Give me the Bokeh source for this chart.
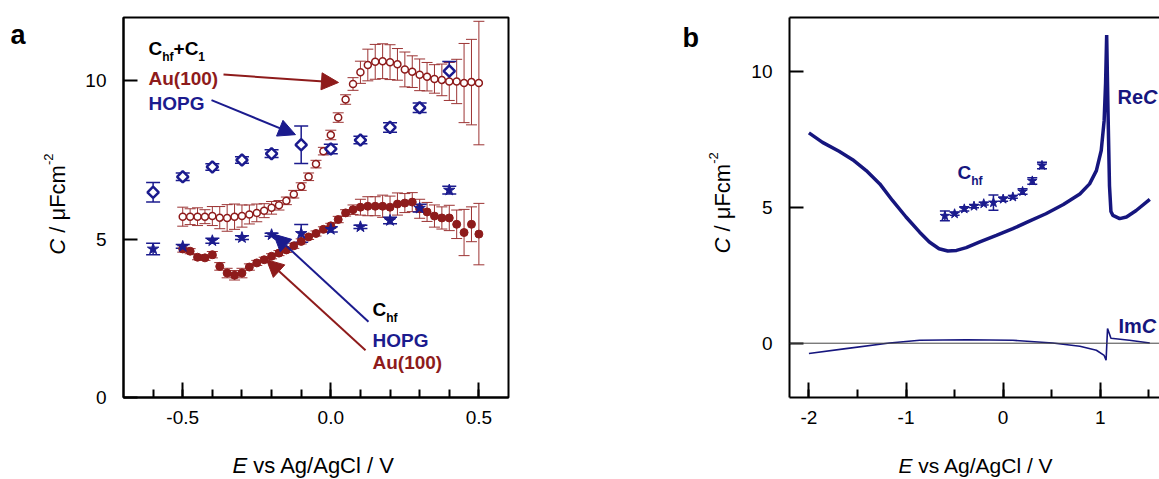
import math
from bokeh.plotting import figure
from bokeh.layouts import row
from bokeh.models import (Range1d, FixedTicker, Whisker, TeeHead, ColumnDataSource,
                          Arrow, NormalHead, Label, Span, LinearAxis)
from bokeh.embed import file_html
from bokeh.resources import INLINE

# ---------------- data ----------------
au_E = [-0.5, -0.475, -0.45, -0.425, -0.4, -0.375, -0.35, -0.325, -0.3, -0.275, -0.25,
        -0.225, -0.2, -0.175, -0.15, -0.125, -0.1, -0.075, -0.05, -0.025, 0.0, 0.025,
        0.05, 0.075, 0.1, 0.125, 0.15, 0.175, 0.2, 0.225, 0.25, 0.275, 0.3, 0.325, 0.35,
        0.375, 0.4, 0.425, 0.45, 0.475, 0.5]
au_total = [5.71, 5.71, 5.71, 5.71, 5.73, 5.68, 5.67, 5.71, 5.73, 5.78, 5.83, 5.90, 5.99,
            6.07, 6.21, 6.42, 6.66, 6.97, 7.37, 7.78, 8.29, 8.84, 9.41, 9.90, 10.27, 10.50,
            10.60, 10.62, 10.59, 10.52, 10.36, 10.29, 10.19, 10.13, 10.06, 10.03, 9.98, 9.98,
            9.93, 9.96, 9.93]
au_total_err = [0.30, 0.25, 0.28, 0.22, 0.30, 0.35, 0.42, 0.40, 0.35, 0.30, 0.28, 0.22, 0.20,
                0.15, 0.12, 0.12, 0.12, 0.12, 0.12, 0.12, 0.15, 0.15, 0.15, 0.20,
                0.35, 0.50, 0.55, 0.55, 0.55, 0.50, 0.55, 0.50, 0.50, 0.45, 0.45, 0.50, 0.60,
                0.70, 1.25, 1.35, 1.95]
au_hf = [4.69, 4.62, 4.43, 4.41, 4.51, 4.14, 3.93, 3.86, 3.93, 4.12, 4.25, 4.35, 4.46, 4.56,
         4.66, 4.79, 4.93, 5.07, 5.18, 5.31, 5.42, 5.62, 5.83, 5.93, 6.01, 6.04, 6.04, 6.04,
         6.01, 6.11, 6.14, 6.17, 5.96, 5.86, 5.73, 5.67, 5.67, 5.47, 5.21, 5.47, 5.16]
au_hf_err = [0.10, 0.08, 0.08, 0.08, 0.10, 0.12, 0.15, 0.15, 0.15, 0.10, 0.08, 0.08, 0.08,
             0.08, 0.08, 0.08, 0.08, 0.08, 0.08, 0.08, 0.08, 0.10, 0.10, 0.15,
             0.25, 0.30, 0.30, 0.35, 0.35, 0.35, 0.30, 0.30, 0.30, 0.30, 0.35, 0.35, 0.40,
             0.45, 0.73, 0.55, 0.97]

hopg_E = [-0.6, -0.5, -0.4, -0.3, -0.2, -0.1, 0.0, 0.1, 0.2, 0.3, 0.4]
hopg_total = [6.48, 6.97, 7.28, 7.50, 7.70, 7.98, 7.85, 8.13, 8.53, 9.15, 10.31]
hopg_total_err = [0.31, 0.12, 0.10, 0.10, 0.12, 0.59, 0.15, 0.12, 0.15, 0.15, 0.30]
hopg_hf = [4.69, 4.77, 4.95, 5.05, 5.14, 5.18, 5.31, 5.39, 5.59, 5.98, 6.55]
hopg_hf_err = [0.18, 0.06, 0.08, 0.06, 0.05, 0.28, 0.08, 0.05, 0.10, 0.12, 0.12]

reC_E = [-2.0, -1.86, -1.69, -1.55, -1.41, -1.27, -1.14, -1.0, -0.86, -0.76, -0.66, -0.57,
         -0.48, -0.38, -0.24, -0.07, 0.1, 0.27, 0.44, 0.62, 0.79, 0.89, 0.96, 1.01, 1.04,
         1.055, 1.066, 1.08, 1.095, 1.11, 1.13, 1.2, 1.27, 1.37, 1.51]
reC = [7.75, 7.40, 7.07, 6.76, 6.36, 5.87, 5.26, 4.65, 4.09, 3.73, 3.48, 3.40, 3.42, 3.52,
       3.73, 3.97, 4.22, 4.50, 4.77, 5.11, 5.50, 5.87, 6.36, 7.10, 8.20, 9.60, 11.35, 8.50,
       5.80, 4.85, 4.71, 4.59, 4.65, 4.89, 5.30]
imC_E = [-2.0, -1.62, -1.17, -0.86, -0.38, 0.1, 0.51, 0.79, 0.96, 1.04, 1.06, 1.075, 1.11,
         1.3, 1.51]
imC = [-0.38, -0.20, 0.01, 0.11, 0.13, 0.11, 0.01, -0.11, -0.26, -0.45, -0.63, 0.54, 0.18,
       0.11, 0.01]

xticks_a = [-0.5, 0.0, 0.5]
xlabels_a = ["-0.5", "0.0", "0.5"]
xminor_a = [-0.6, -0.5, -0.4, -0.3, -0.2, -0.1, 0.0, 0.1, 0.2, 0.3, 0.4, 0.5]
yticks = [0, 5, 10]
ylabels = ["0", "5", "10"]
xticks_b = [-2, -1, 0, 1]
xlabels_b = ["-2", "-1", "0", "1"]
xminor_b = [-2, -1.5, -1, -0.5, 0, 0.5, 1, 1.5]

# ---------------- styles ----------------
RED = "#8E1B1B"
RED_BAR = "#9C3434"
BLUE = "#1B1B8E"
NAVY = "#16167E"
FONT = "Liberation Sans"

W_REG = {' ': .278, '-': .333, '.': .278, '/': .278, 'A': .667, 'C': .722, 'E': .667,
         'F': .611, 'V': .667, 'c': .5, 'g': .556, 'l': .222, 'm': .833, 's': .5, 'v': .5,
         'μ': .576}
W_BOLD = {' ': .278, 'A': .722, 'u': .611, '(': .333, ')': .333, 'H': .722, 'O': .778,
          'P': .667, 'G': .778, 'C': .722, 'h': .611, 'f': .333, '+': .584, 'R': .722,
          'e': .556, 'I': .278, 'm': .889}


def tw(s, size, bold):
    t = W_BOLD if bold else W_REG
    return sum(t.get(ch, .556) for ch in s) * size


def make_geom(left, right, top, bottom, x0, x1, y0, y1):
    def f(px, py):
        return (x0 + (px - left) / (right - left) * (x1 - x0),
                y0 + (bottom - py) / (bottom - top) * (y1 - y0))
    return f


def rich(p, conv, px, py, pieces, angle=0.0, place=None):
    x, y = conv(px, py)
    off = 0.0
    for text, size, style, color, dy in pieces:
        bold = "bold" in style
        lead = len(text) - len(text.lstrip(" "))
        off += tw(" " * lead, size, bold)
        body = text.strip(" ")
        if angle == 0:
            xo, yo = off, -dy
        else:
            xo, yo = dy, off
        lab = Label(x=x, y=y, x_offset=xo, y_offset=yo, text=body, angle=angle,
                    text_font=FONT, text_font_size=f"{size}px",
                    text_font_style=style, text_color=color,
                    text_baseline="alphabetic", text_align="left")
        if place is None:
            p.add_layout(lab)
        else:
            p.add_layout(lab, place)
        off += tw(text.lstrip(" "), size, bold)


def style_axes(p, xt, xl, xm, yt, yl):
    for ax in p.xaxis:
        ax.ticker = FixedTicker(ticks=xt, minor_ticks=xm)
        ax.major_label_overrides = dict(zip(xt, xl))
        ax.major_tick_in = 15
        ax.major_tick_out = 0
        ax.minor_tick_in = 8
        ax.minor_tick_out = 0
        ax.major_label_standoff = 13
    for ax in p.yaxis:
        ax.ticker = FixedTicker(ticks=yt, minor_ticks=[])
        ax.major_label_overrides = dict(zip(yt, yl))
        ax.major_tick_in = 14
        ax.major_tick_out = 0
        ax.minor_tick_line_color = None
        ax.major_label_standoff = 17
    for ax in p.xaxis + p.yaxis:
        ax.axis_line_width = 2
        ax.axis_line_color = "black"
        ax.major_tick_line_width = 2
        ax.minor_tick_line_width = 2
        ax.major_tick_line_color = "black"
        ax.major_label_text_font = FONT
        ax.major_label_text_font_size = "19px"
        ax.major_label_text_color = "black"
    p.grid.visible = False


def whisk(p, xs, ys, es, color, cap, lw=1.0):
    src = ColumnDataSource(dict(x=xs, upper=[a + b for a, b in zip(ys, es)],
                                lower=[a - b for a, b in zip(ys, es)]))
    p.add_layout(Whisker(source=src, base="x", upper="upper", lower="lower",
                         dimension="height", line_color=color, line_width=lw,
                         upper_head=TeeHead(size=cap, line_color=color, line_width=lw),
                         lower_head=TeeHead(size=cap, line_color=color, line_width=lw)))


def arrow(p, conv, a, b, color):
    xs, ys = conv(*a)
    xe, ye = conv(*b)
    p.add_layout(Arrow(x_start=xs, y_start=ys, x_end=xe, y_end=ye, line_color=color,
                       line_width=2,
                       end=NormalHead(size=17, fill_color=color, line_color=color,
                                      line_width=1)))


# ---------------- panel a ----------------
p1 = figure(width=600, height=479, output_backend="svg", toolbar_location=None,
            x_range=Range1d(-0.7, 0.6), y_range=Range1d(0, 12),
            min_border_left=123, min_border_right=92, min_border_top=17, min_border_bottom=76)
p1.outline_line_color = "black"
p1.outline_line_width = 2
p1.outline_line_alpha = 1
style_axes(p1, xticks_a, xlabels_a, xminor_a, yticks, ylabels)
ga = make_geom(123, 508, 17, 403, -0.7, 0.6, 0, 12)

whisk(p1, au_E, au_total, au_total_err, RED_BAR, 11)
whisk(p1, au_E, au_hf, au_hf_err, RED_BAR, 11)
whisk(p1, hopg_E, hopg_total, hopg_total_err, BLUE, 14, 1.5)
whisk(p1, hopg_E, hopg_hf, hopg_hf_err, BLUE, 14, 1.5)

p1.scatter(au_E, au_total, marker="circle", size=7, fill_color="white",
           line_color=RED, line_width=1.5)
p1.scatter(au_E, au_hf, marker="circle", size=8, fill_color=RED, line_color=RED)
p1.scatter(hopg_E, hopg_total, marker="square", angle=math.pi / 4, size=8,
           fill_color="white", line_color=BLUE, line_width=2.5)
p1.scatter(hopg_E, hopg_hf, marker="star", size=12, fill_color=BLUE, line_color=BLUE)

arrow(p1, ga, (223, 75), (338, 83), RED)
arrow(p1, ga, (211, 101), (295, 136), BLUE)
arrow(p1, ga, (368, 326), (273, 237), BLUE)
arrow(p1, ga, (365, 355), (266, 263), RED)

rich(p1, ga, 148, 48, [("C", 19, "bold", "black", 0), ("hf", 12, "bold", "black", 8.5),
                       ("+", 19, "bold", "black", 0), ("C", 19, "bold", "black", 0),
                       ("1", 12, "bold", "black", 8.5)])
rich(p1, ga, 148, 79, [("Au(100)", 19, "bold", RED, 0)])
rich(p1, ga, 148, 104, [("HOPG", 19, "bold", BLUE, 0)])
rich(p1, ga, 372, 314, [("C", 19, "bold", "black", 0), ("hf", 12, "bold", "black", 8)])
rich(p1, ga, 372, 345, [("HOPG", 19, "bold", BLUE, 0)])
rich(p1, ga, 372, 367, [("Au(100)", 19, "bold", RED, 0)])
rich(p1, ga, 10, 35, [("a", 27, "bold", "black", 0)], place="left")
rich(p1, ga, 232, 472, [("E", 22, "italic", "black", 0),
                        (" vs Ag/AgCl / V", 22, "normal", "black", 0)], place="below")
rich(p1, ga, 57, 258, [("C", 22, "italic", "black", 0),
                       (" / μFcm", 22, "normal", "black", 0),
                       ("-2", 13, "normal", "black", -9)], angle=math.pi / 2, place="left")

# ---------------- panel b ----------------
p2 = figure(width=559, height=479, output_backend="svg", toolbar_location=None,
            x_range=Range1d(-2.2, 1.61), y_range=Range1d(-2, 12),
            min_border_left=189, min_border_right=0, min_border_top=17, min_border_bottom=82)
p2.outline_line_color = None
style_axes(p2, xticks_b, xlabels_b, xminor_b, yticks, ylabels)
top_ax = LinearAxis(ticker=FixedTicker(ticks=[]), axis_line_width=2, axis_line_color="black",
                    major_tick_line_color=None, minor_tick_line_color=None,
                    major_label_text_font_size="0px")
p2.add_layout(top_ax, "above")
gb = make_geom(789, 1159, 17, 397, -2.2, 1.61, -2, 12)

p2.add_layout(Span(location=0, dimension="width", line_color="#444444", line_width=1))
p2.line(imC_E, imC, line_color=NAVY, line_width=1.6)
p2.line(reC_E, reC, line_color=NAVY, line_width=3.5)
whisk(p2, hopg_E, hopg_hf, hopg_hf_err, BLUE, 10, 1.5)
p2.scatter(hopg_E, hopg_hf, marker="star", size=10, fill_color=BLUE, line_color=BLUE)

rich(p2, gb, 957, 172, [("C", 19, "bold", NAVY, 0), ("hf", 12, "bold", NAVY, 8)])
rich(p2, gb, 1117, 96, [("Re", 20, "bold", NAVY, 0), ("C", 20, "bold italic", NAVY, 0)])
rich(p2, gb, 1118, 325, [("Im", 20, "bold", NAVY, 0), ("C", 20, "bold italic", NAVY, 0)])
rich(p2, gb, 682, 37, [("b", 27, "bold", "black", 0)], place="left")
rich(p2, gb, 898, 465, [("E", 21, "italic", "black", 0),
                        (" vs Ag/AgCl / V", 21, "normal", "black", 0)], place="below")
rich(p2, gb, 722, 253, [("C", 22, "italic", "black", 0),
                        (" / μFcm", 22, "normal", "black", 0),
                        ("-2", 13, "normal", "black", -9)], angle=math.pi / 2, place="left")

layout = row(p1, p2, spacing=0)
open("out.html", "w").write(file_html(layout, INLINE))
